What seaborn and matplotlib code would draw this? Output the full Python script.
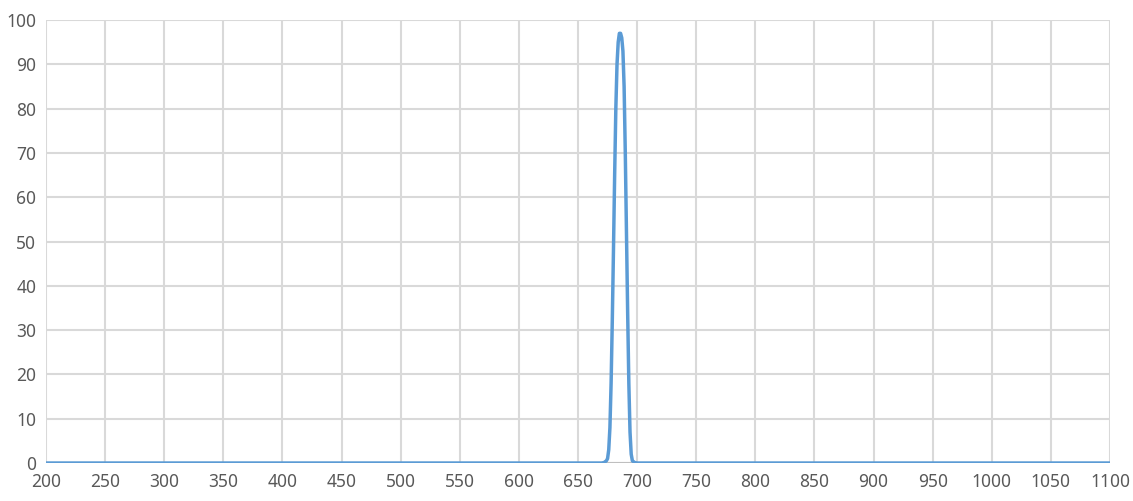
import numpy as np
import pandas as pd
import matplotlib.pyplot as plt
import seaborn as sns

# transmission spectrum
wavelength = [200, 660, 670, 672, 674, 675, 676, 677, 678, 679, 680, 681, 682, 683, 684,
              685, 686, 687, 688, 689, 690, 691, 692, 693, 694, 695, 696, 698, 700, 710, 1100]
transmission = [0, 0, 0, 0.1, 0.5, 1, 3, 8, 18, 32, 48, 65, 80, 90, 95,
                97, 97, 96, 93, 85, 70, 52, 34, 18, 7, 2, 0.5, 0.1, 0, 0, 0]
x_ticks = list(range(200, 1101, 50))
y_ticks = list(range(0, 101, 10))

data = pd.DataFrame({"wavelength": wavelength, "transmission": transmission})

sns.set_theme(style="whitegrid")
plt.rcParams['font.family'] = ['Noto Sans', 'DejaVu Sans']

fig = plt.figure(figsize=(11.33, 5.01), dpi=100)
ax = fig.add_axes([0.0406, 0.0758, 0.9391, 0.8842])

sns.lineplot(data=data, x="wavelength", y="transmission", ax=ax,
             color="#5B9BD5", linewidth=2.5, zorder=3)

ax.set_xlim(200, 1100)
ax.set_ylim(0, 100)
ax.set_xticks(x_ticks)
ax.set_yticks(y_ticks)
ax.set_xlabel("")
ax.set_ylabel("")
ax.grid(True, color="#D9D9D9", linewidth=1.5)
for s in ax.spines.values():
    s.set_visible(False)
ax.axhline(0, color="#BFBFBF", linewidth=1.5, zorder=2)
ax.tick_params(axis="both", colors="#595959", labelsize=12.5, length=0, pad=7)
ax.set_facecolor("white")

fig.savefig("out.png", dpi=100)
